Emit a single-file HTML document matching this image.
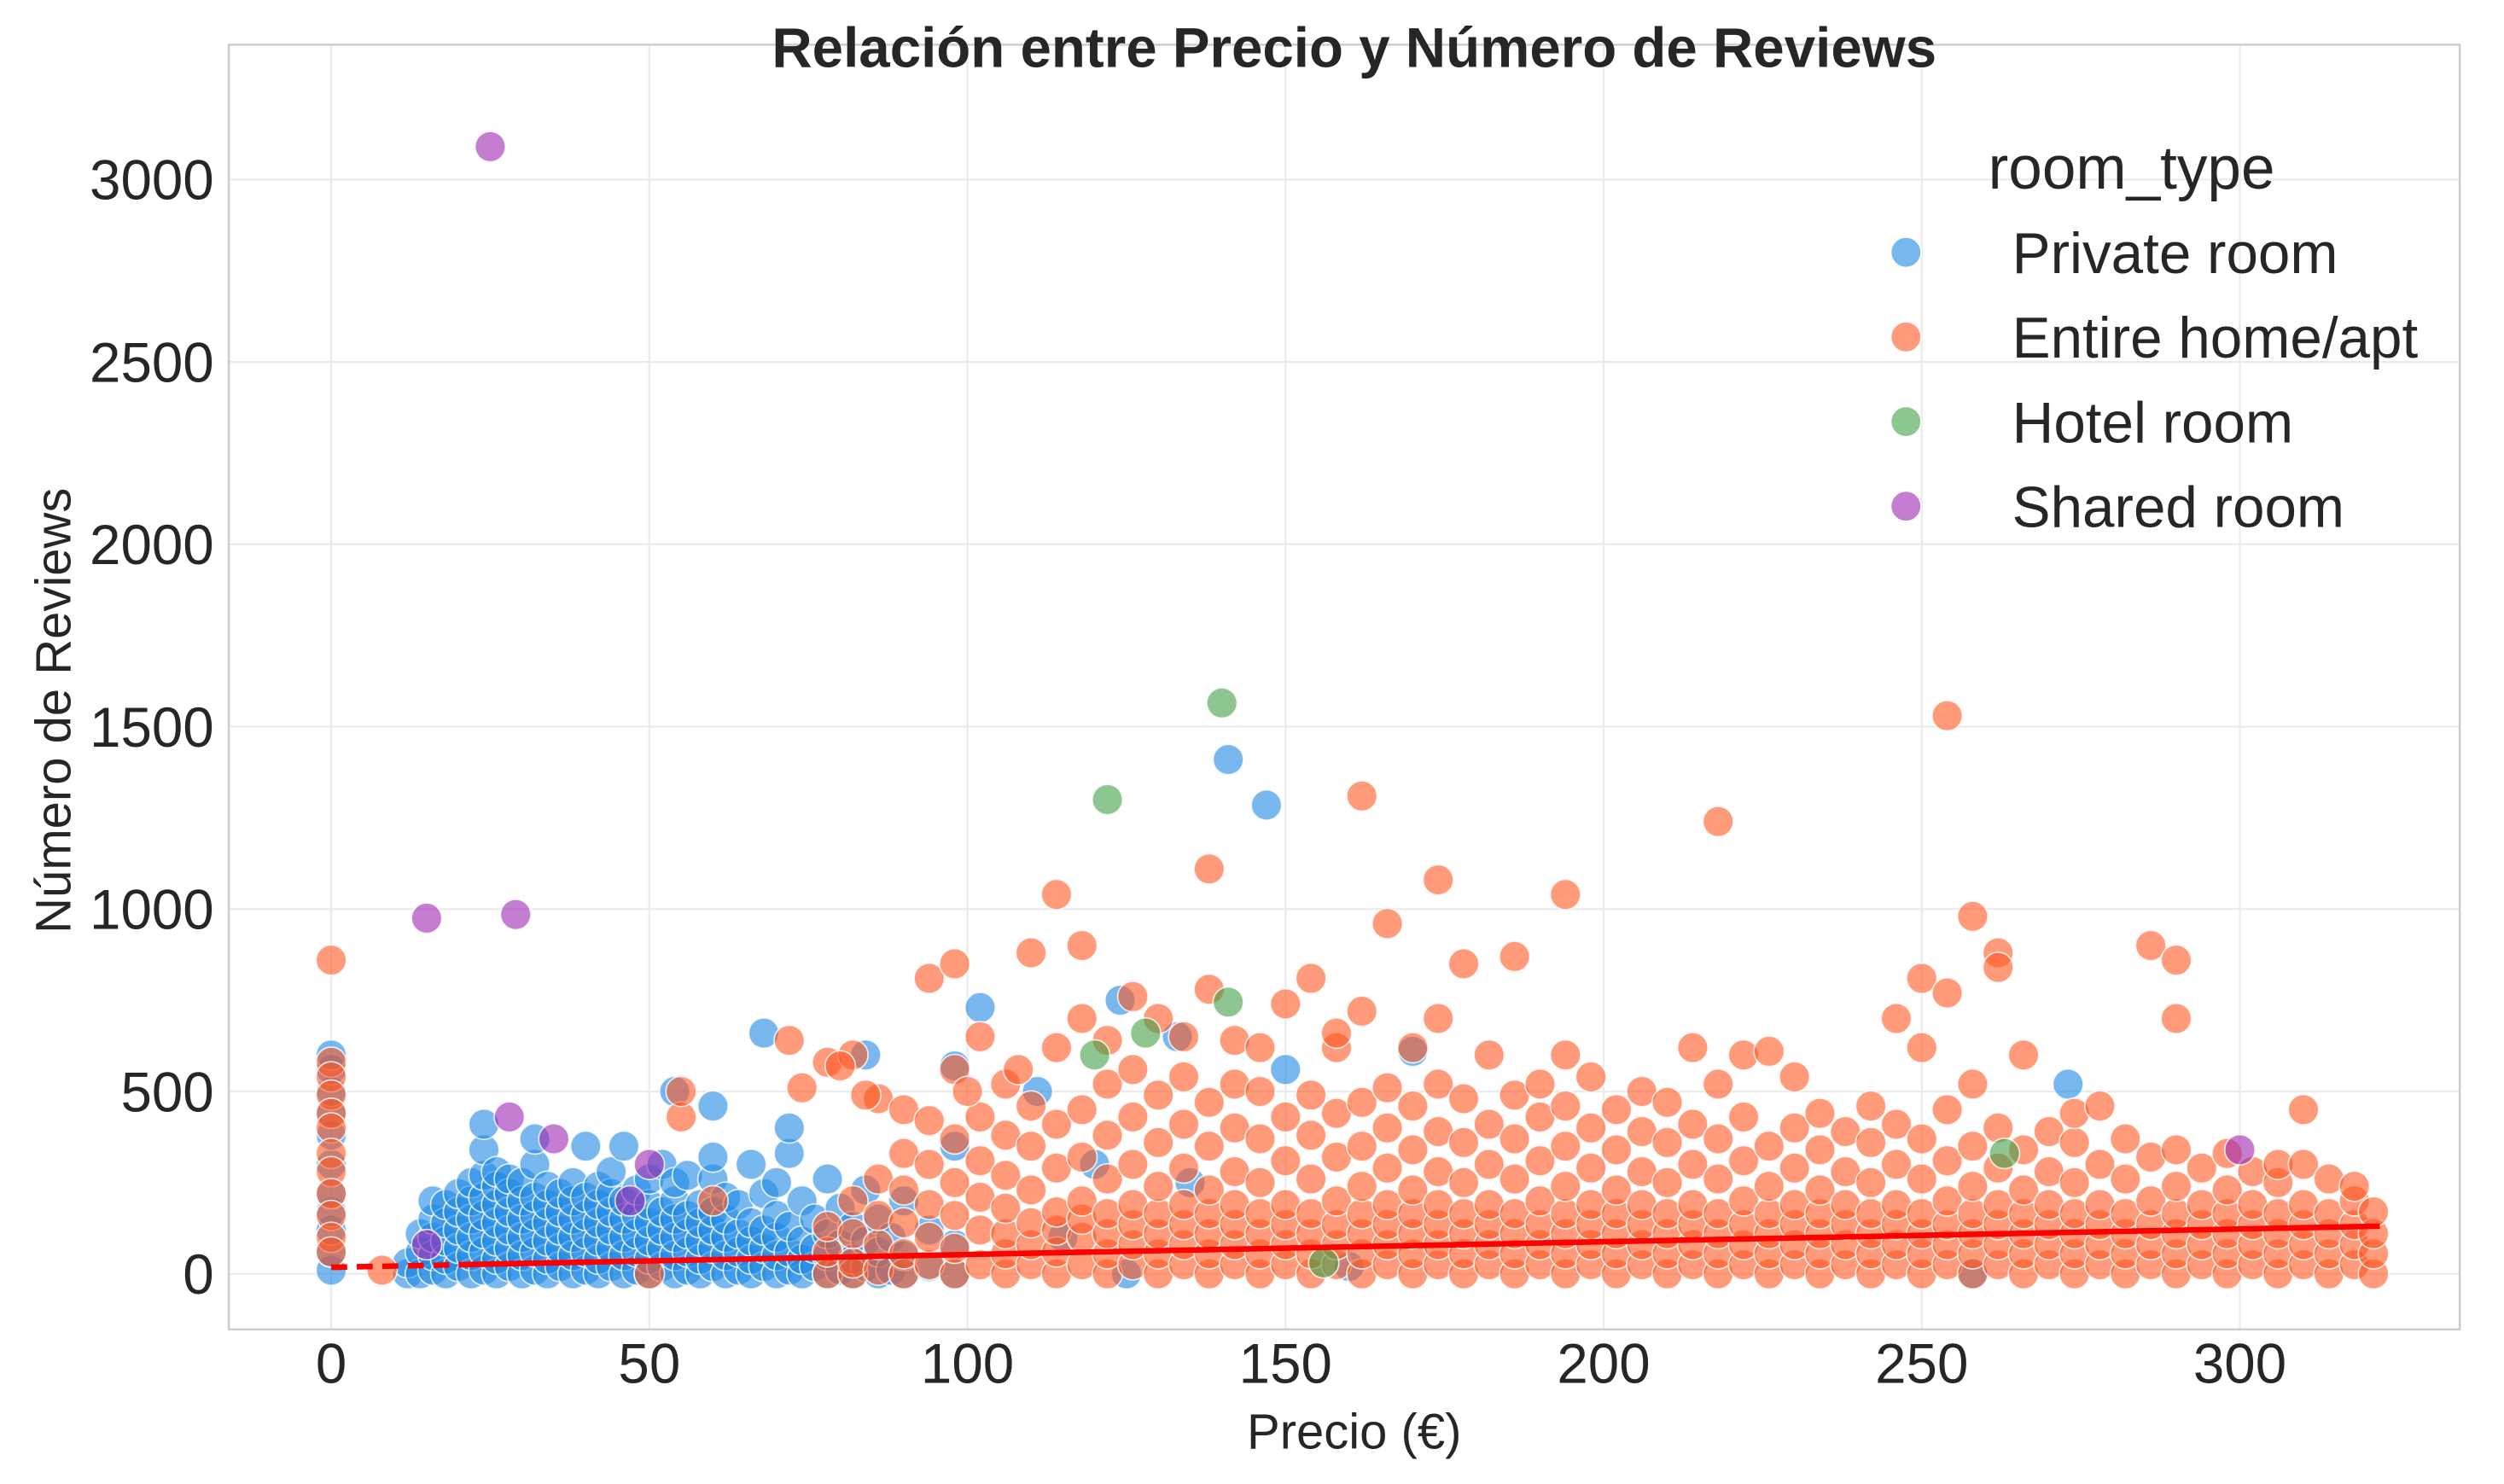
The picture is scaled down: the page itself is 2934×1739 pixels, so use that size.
<!DOCTYPE html>
<html><head><meta charset="utf-8"><style>
html,body{margin:0;padding:0;background:#fff;}
svg{display:block;}
text{font-family:"Liberation Sans",Arial,sans-serif;fill:#262626;}
</style></head><body>
<svg id="chart" width="2934" height="1739" viewBox="0 0 1568 929.3" preserveAspectRatio="none" xmlns="http://www.w3.org/2000/svg">
<rect x="0" y="0" width="1568" height="929.3" fill="#fff"/>
<g id="grid"></g>
<g id="points"></g>
<g id="trend"></g>
<rect x="143.3" y="28" width="1397" height="804.5" fill="none" stroke="#cccccc" stroke-width="1.3"/>
<g id="ticks"></g>
<text x="848" y="42" text-anchor="middle" font-size="35" font-weight="bold">Relación entre Precio y Número de Reviews</text>
<text x="848" y="907" text-anchor="middle" font-size="31">Precio (€)</text>
<text transform="translate(44,445) rotate(-90)" text-anchor="middle" font-size="31">Número de Reviews</text>
<g id="legend">
<text x="1245" y="118" font-size="38">room_type</text>
</g>
</svg>
<script>
const xTicks=[0,50,100,150,200,250,300];
const yTicks=[0,500,1000,1500,2000,2500,3000];
const legendLabels=["Private room","Entire home/apt","Hotel room","Shared room"];
const colors={p:"#1E88E5",e:"#FF5722",h:"#43A047",s:"#9C27B0"};
const trendX=[0,20,322];
const trendIntercept=18;
const trendSlope=0.35;

const privateRowPrices=[0,12,14,16,18,20,22,24,26,28,30,32,34,36,38,40,42,44,46,48,50,52,54,56,58,60,62,64,66,68,70,72,74,76,78,80,82,84,86,88,90,94,98];
const privateRowReviews=[
[10,60,120,170,220,300,380,440,500,560,600],
[0,30],[0,60,110],[10,50,100,150,200],[0,40,90,140,190],[20,70,120,170,220],
[0,50,100,150,200,250],[10,60,110,160,210,270,340,410],[0,40,90,140,190,240,280],[20,70,120,170,220,260],
[0,50,100,150,200,250],[10,60,110,160,210,300,370],[0,40,90,140,190,240],[20,70,120,170,220],
[0,50,100,150,200,250],[10,60,110,160,210,350],[0,40,90,140,190,240],[20,70,120,170,220,280],
[0,50,100,150,200,350],[10,60,110,160,230],[0,40,90,140,190,260],[20,70,120,170,300],
[0,50,100,150,200,250,500],[10,60,110,160,270],[0,40,90,140,190],[20,70,120,170,260,320,460],
[0,50,100,150,210],[10,60,110,190],[0,40,90,140,300],[20,70,120,220,660],[0,50,100,160,250],
[10,60,130,330,400],[0,40,90,200],[20,70,150],[0,50,110,260],[10,80,180],[0,40,130],
[20,90,230,600],[0,60,150],[10,100],[0,50,200],[20,120],[0,80,350,570]];
const privateExtraPrice=[102,111,124,133,141,147,170,273,258,125,115,120,135,150,160];
const privateExtraReviews=[730,500,750,650,1410,1285,610,520,0,0,100,300,250,560,20];

const entireRowPrices=[0,78,82,86,90,94,98,102,106,110,114,118,122,126,130,134,138,142,146,150,154,158,162,166,170,174,178,182,186,190,194,198,202,206,210,214,218,222,226,230,234,238,242,246,250,254,258,262,266,270,274,278,282,286,290,294,298,302,306,310,314,318,321];
const entireRowReviews=[
[860,580,540,490,440,400,330,280,220,160,100,60],
[0,60,130,580],[0,30,110,200,600],[10,80,160,260,480],[0,55,140,230,330,450],
[25,100,190,300,420,810],[0,70,160,250,370,560,850],[25,120,210,310,430,650],[0,55,110,180,270,380,520],
[25,80,140,230,350,460,880],[0,60,120,170,290,410,620,1040],[25,100,150,200,320,450,700,900],[0,55,110,165,260,380,520,640],
[25,80,135,190,300,430,560,760],[0,55,110,165,240,360,490,700],[25,80,135,190,290,410,540,650],[0,55,110,165,230,350,470,780,1110],
[25,80,135,190,280,400,520,640],[0,55,110,165,250,370,500,620],[25,80,135,190,310,430,740],[0,55,110,165,260,380,490,810],
[25,80,135,200,320,440,620,660],[0,55,110,165,240,350,470,720,1310],[25,80,135,190,290,400,510,960],[0,55,110,165,230,340,460,620],
[25,80,135,190,280,390,520,700,1080],[0,55,110,165,250,360,480,850],[25,80,135,190,300,410,600],[0,55,110,165,260,370,490,870],
[25,80,135,200,310,430,520],[0,55,110,165,240,350,460,600,1040],[25,80,135,190,290,400,540],[0,55,110,165,230,340,450],
[25,80,135,190,280,390,500],[0,55,110,165,250,360,470],[25,80,135,190,300,410,620],[0,55,110,165,260,370,520,1240],
[25,80,135,200,310,430,600],[0,55,110,165,240,350,610],[25,80,135,190,290,400,540],[0,55,110,165,230,340,440],
[25,80,135,190,280,390],[0,55,110,165,250,360,460],[25,80,135,190,300,410,700],[0,55,110,165,260,370,620,810],
[25,80,135,200,310,450,770,1530],[0,55,110,165,240,350,520,980],[25,80,135,190,290,400,880,840],[0,55,110,165,230,340,600],
[25,80,135,190,280,390],[0,55,110,165,250,360,440],[25,80,135,190,300,460],[0,55,110,165,260,370],
[25,80,135,200,320,900],[0,55,110,165,240,340,700,860],[25,80,135,190,290],[0,55,110,165,230,330],
[25,80,135,190,280],[0,55,110,165,250,300],[25,80,135,190,300,450],[0,55,110,165,260],[25,80,135,200,240],[0,55,110,170]];
const entireExtraPrice=[8,50,55,55,72,60,74,80,84,100,108];
const entireExtraReviews=[10,0,430,500,640,200,510,570,490,500,560];

const hotelPrice=[122,140,141,128,263,156,120];
const hotelReviews=[1300,1565,745,660,330,30,600];
const sharedPrice=[25,15,29,28,35,15,50,300,47];
const sharedReviews=[3090,975,985,430,370,80,300,340,200];

const NS="http://www.w3.org/2000/svg";
const xs=v=>207.4+v*(1402.6-207.4)/300;
const ys=v=>797.7-v*(797.7-112.4)/3000;
function mk(tag,attrs,parent){const el=document.createElementNS(NS,tag);for(const k in attrs)el.setAttribute(k,attrs[k]);parent.appendChild(el);return el;}

const grid=document.getElementById('grid'),ticks=document.getElementById('ticks');
xTicks.forEach(t=>{
  const l=mk('line',{x1:xs(t),x2:xs(t),y1:28,y2:832.5,stroke:'#ebebeb','stroke-width':1.2},grid);
  
  
  const tx=mk('text',{x:xs(t),y:866,'text-anchor':'middle','font-size':35},ticks);
  tx.textContent=t;
  
  
});
yTicks.forEach(t=>{
  const l=mk('line',{x1:143.3,x2:1540.3,y1:ys(t),y2:ys(t),stroke:'#ebebeb','stroke-width':1.2},grid);
  
  
  const tx=mk('text',{x:134,y:ys(t)+12.5,'text-anchor':'end','font-size':35},ticks);
  tx.textContent=t;
  
  
});

const pts=document.getElementById('points');
function dot(x,y,c,name){
  const el=mk('circle',{cx:xs(x),cy:ys(y),r:9.5,fill:c,'fill-opacity':0.6,stroke:'#fff','stroke-opacity':0.8,'stroke-width':0.9},pts);
  
  
}
privateRowPrices.forEach((p,i)=>privateRowReviews[i].forEach(r=>dot(p,r,colors.p,'private-room-point')));
privateExtraPrice.forEach((p,i)=>dot(p,privateExtraReviews[i],colors.p,'private-room-point'));
entireRowPrices.forEach((p,i)=>entireRowReviews[i].forEach(r=>dot(p,r,colors.e,'entire-home-point')));
entireExtraPrice.forEach((p,i)=>dot(p,entireExtraReviews[i],colors.e,'entire-home-point'));
hotelPrice.forEach((p,i)=>dot(p,hotelReviews[i],colors.h,'hotel-room-point'));
sharedPrice.forEach((p,i)=>dot(p,sharedReviews[i],colors.s,'shared-room-point'));

const tr=document.getElementById('trend');
const f=x=>trendIntercept+trendSlope*x;
const d1=mk('line',{x1:xs(trendX[0]),y1:ys(f(trendX[0])),x2:xs(trendX[1]),y2:ys(f(trendX[1])),stroke:'#ff0000','stroke-width':3.5,'stroke-dasharray':'10,6'},tr);


const d2=mk('line',{x1:xs(trendX[1]),y1:ys(f(trendX[1])),x2:xs(trendX[2]),y2:ys(f(trendX[2])),stroke:'#ff0000','stroke-width':3.5},tr);



const lg=document.getElementById('legend');
const lc=[colors.p,colors.e,colors.h,colors.s];
legendLabels.forEach((lab,i)=>{
  const y=158+i*53;
  const c=mk('circle',{cx:1193.5,cy:y,r:9.5,fill:lc[i],'fill-opacity':0.6,stroke:'#fff','stroke-width':0.9},lg);
  
  
  const t=mk('text',{x:1260,y:y+13,'font-size':36},lg);
  t.textContent=lab;
  
  
});
</script>
</body></html>
